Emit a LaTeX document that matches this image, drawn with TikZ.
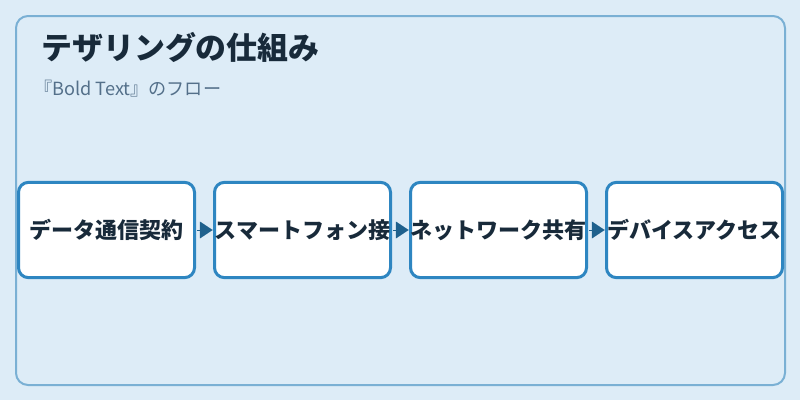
\documentclass[tikz,border=0pt]{standalone}
\usepackage{fontspec}
\setmainfont{Noto Sans CJK JP}
\usetikzlibrary{arrows.meta}
\definecolor{bgc}{RGB}{221,236,247}
\definecolor{framec}{RGB}{122,176,212}
\definecolor{boxc}{RGB}{46,134,193}
\definecolor{txtc}{RGB}{24,42,58}
\definecolor{subc}{RGB}{84,112,138}
\definecolor{arrc}{RGB}{31,97,141}
\tikzset{
  stepbox/.style={draw=boxc, line width=2.25pt, fill=white, rounded corners=7.5pt,
    minimum width=132pt, minimum height=71.5pt, inner sep=0pt, outer sep=0pt,
    text=txtc, font=\fontsize{16.5pt}{19pt}\selectfont\bfseries},
  flowarrow/.style={draw=arrc, line width=0.1pt, shorten <=1.75pt, shorten >=1.4pt,
    -{Triangle[length=9.5pt,width=12.5pt,fill=arrc]}}
}
\begin{document}
\begin{tikzpicture}[x=0.75pt,y=-0.75pt]
\useasboundingbox (0,0) rectangle (800,400);
\fill[bgc] (0,0) rectangle (800,400);
\draw[framec, line width=1.5pt, rounded corners=9pt] (16,16) rectangle (785,385);
\node[anchor=west, text=txtc, font=\fontsize{23.2pt}{27pt}\selectfont\bfseries, inner sep=0pt] (title) at (41,47) {テザリングの仕組み};
\node[anchor=west, text=subc, font=\fontsize{13.6pt}{16pt}\selectfont, inner sep=0pt] (sub) at (34,89) {『Bold Text』のフロー};
\node[stepbox] (b1) at (106.5,230) {データ通信契約};
\node[stepbox] (b2) at (302.5,230) {スマートフォン接};
\node[stepbox] (b3) at (498.5,230) {ネットワーク共有};
\node[stepbox] (b4) at (694.5,230) {デバイスアクセス};
\draw[flowarrow] (b1) -- (b2);
\draw[flowarrow] (b2) -- (b3);
\draw[flowarrow] (b3) -- (b4);
\end{tikzpicture}
\end{document}
